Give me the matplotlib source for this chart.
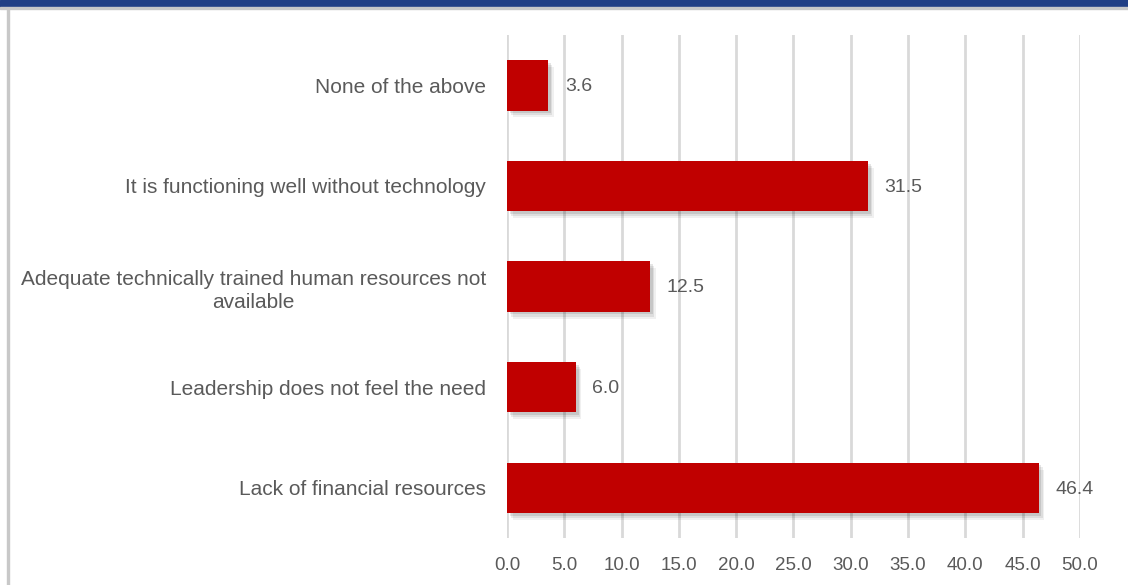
import matplotlib
matplotlib.use("Agg")
import matplotlib.pyplot as plt
import matplotlib.patheffects as pe
from matplotlib.patches import Rectangle

categories = [
    "Lack of financial resources",
    "Leadership does not feel the need",
    "Adequate technically trained human resources not\navailable",
    "It is functioning well without technology",
    "None of the above",
]
values = [46.4, 6.0, 12.5, 31.5, 3.6]
x_ticks = [0, 5, 10, 15, 20, 25, 30, 35, 40, 45, 50]

BAR_COLOR = "#c00000"
TEXT_COLOR = "#5a5a5a"
GRID_COLOR = "#d9d9d9"

plt.rcParams["font.family"] = ["Liberation Sans", "DejaVu Sans"]

fig = plt.figure(figsize=(11.28, 5.85), dpi=100)
ax = fig.add_axes([0.4495, 0.0803, 0.5079, 0.8597])

# frame decoration: blue band on top, grey rule down the left side
fig.patches.append(Rectangle((0, 0.988), 1, 0.012, transform=fig.transFigure,
                             color="#213f85", zorder=5))
fig.patches.append(Rectangle((0, 0.984), 1, 0.004, transform=fig.transFigure,
                             color="#c8c8c8", zorder=5))
fig.patches.append(Rectangle((0.0062, 0), 0.0022, 0.985, transform=fig.transFigure,
                             color="#c8c8c8", zorder=5))

pos = range(len(categories))
bars = ax.barh(pos, values, height=0.5, color=BAR_COLOR, zorder=3)
for b in bars:
    b.set_path_effects([
        pe.SimplePatchShadow(offset=(4, -5), shadow_rgbFace="#000000", alpha=0.06),
        pe.SimplePatchShadow(offset=(3, -3.5), shadow_rgbFace="#000000", alpha=0.08),
        pe.SimplePatchShadow(offset=(2, -2), shadow_rgbFace="#000000", alpha=0.10),
        pe.Normal(),
    ])

for p, v in zip(pos, values):
    ax.annotate(f"{v:.1f}", (v, p), xytext=(12, -1), textcoords="offset points",
                va="center", ha="left", fontsize=14, color=TEXT_COLOR)

ax.set_xlim(0, 50)
ax.set_ylim(-0.5, 4.5)
ax.set_xticks(x_ticks)
ax.set_xticklabels([f"{t:.1f}" for t in x_ticks])
ax.set_yticks(list(pos))
ax.set_yticklabels(categories)
for lbl in ax.get_yticklabels():
    lbl.set_multialignment("center")
    lbl.set_linespacing(1.3)

ax.grid(axis="x", color=GRID_COLOR, linewidth=2, zorder=0)
ax.tick_params(axis="both", length=0, labelcolor=TEXT_COLOR)
ax.tick_params(axis="x", pad=14, labelsize=13.5)
ax.tick_params(axis="y", pad=15, labelsize=15)
for s in ax.spines.values():
    s.set_visible(False)

fig.savefig("out.png", dpi=100)
